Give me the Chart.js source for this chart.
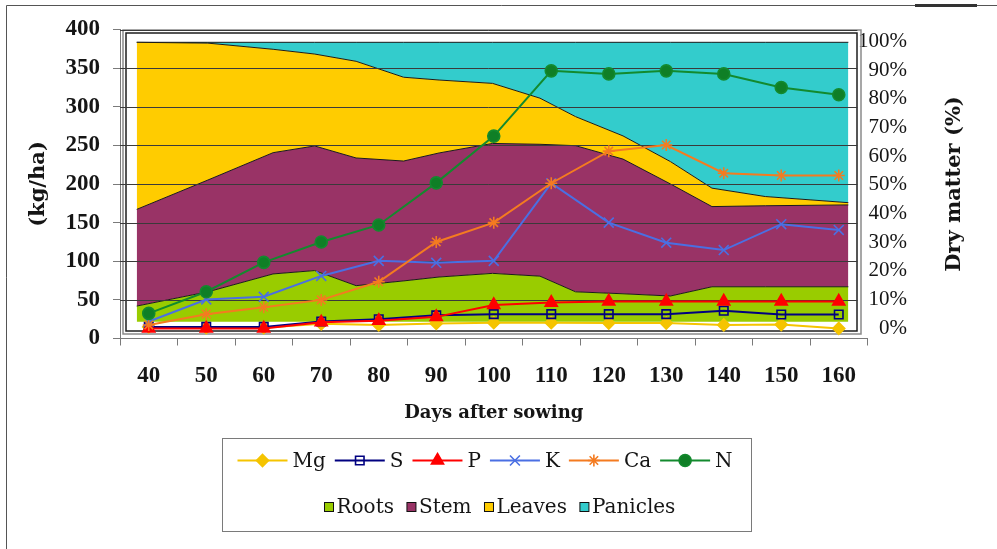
<!DOCTYPE html>
<html>
<head>
<meta charset="utf-8">
<title>Nutrient uptake and dry matter partitioning</title>
<script src="https://cdn.jsdelivr.net/npm/chart.js@4.4.1/dist/chart.umd.min.js"></script>
<style>
  html, body { margin: 0; padding: 0; background: #fff; }
  #wrap { width: 997px; height: 549px; }
</style>
</head>
<body>
<div id="wrap"><canvas id="chart" width="997" height="549"></canvas></div>
<script>
// nutrient uptake (kg/ha), one sample every 10 days
const days = [40, 50, 60, 70, 80, 90, 100, 110, 120, 130, 140, 150, 160];
const mg = [15, 14, 14, 19, 17.5, 19.5, 20.5, 20.5, 20, 20, 17.5, 18, 13];
const s = [15, 15, 15, 22, 25, 30, 31.5, 31.5, 31.5, 31.5, 36, 31, 31];
const p = [13, 13, 13, 21, 23, 28, 43.5, 46.5, 48, 48, 48, 48, 48];
const k = [22, 50.5, 54, 81, 100.5, 98, 100.5, 201, 150, 124, 114.5, 148, 140.5];
const ca = [17.5, 31.5, 40.5, 50, 73.5, 125, 150, 201, 242.5, 250.5, 214, 211, 211];
const n = [32.5, 60.5, 98.5, 125, 147, 201.5, 262, 346.5, 342.5, 346.5, 342.5, 325, 315.5];

// dry matter share (%) of each organ, stacked to 100
const dmDays = [40, 52, 63, 70, 77, 85, 91, 100, 108, 114, 122, 130, 137, 146, 160];
const roots = [5.6, 10.7, 17.1, 18.3, 12.9, 14.6, 16.0, 17.3, 16.3, 10.7, 10.0, 9.2, 12.5, 12.5, 12.5];
const stem = [34.6, 40.0, 43.4, 44.6, 45.7, 42.9, 44.4, 46.5, 47.2, 52.3, 48.2, 40.1, 28.7, 29.0, 29.3];
const leaves = [59.8, 49.0, 37.0, 32.9, 34.6, 30.0, 26.1, 21.5, 16.5, 10.4, 8.3, 8.0, 6.6, 3.3, 0.8];
const panicles = [0, 0.3, 2.5, 4.2, 6.8, 12.5, 13.5, 14.7, 20.0, 26.6, 33.5, 42.7, 52.2, 55.2, 57.4];

// tick labels
const kgTicks = [0, 50, 100, 150, 200, 250, 300, 350, 400];
const pctTicks = [0, 10, 20, 30, 40, 50, 60, 70, 80, 90, 100];

const numFont = "'Liberation Serif', 'Times New Roman', serif";
const textFont = "'DejaVu Serif', serif";
Chart.defaults.color = "#151515";

function lineSet(label, data, color, style, radius, fill, order) {
  return {
    label: label,
    data: data,
    xAxisID: "x",
    yAxisID: "y",
    borderColor: color,
    borderWidth: 2,
    pointStyle: style,
    pointRadius: radius,
    pointBackgroundColor: fill,
    pointBorderColor: color,
    pointBorderWidth: 1.6,
    tension: 0,
    fill: false,
    order: order,
  };
}

function areaSet(label, values, color, fill) {
  return {
    label: label,
    data: dmDays.map((d, i) => ({ x: d, y: values[i] })),
    xAxisID: "xArea",
    yAxisID: "yArea",
    backgroundColor: color,
    borderColor: "#1a1a1a",
    borderWidth: 1,
    pointRadius: 0,
    tension: 0,
    fill: fill,
    order: 10,
  };
}

const drawPoint = (Chart.helpers && Chart.helpers.drawPoint) || function (ctx, o, x, y) {
  ctx.beginPath();
  ctx.arc(x, y, o.radius, 0, Math.PI * 2);
  ctx.fill();
  ctx.stroke();
};

function drawLegend(chart) {
  const ctx = chart.ctx;
  ctx.save();
  ctx.strokeStyle = "#7a7a7a";
  ctx.lineWidth = 1;
  ctx.strokeRect(222.5, 438.5, 529, 93);

  ctx.font = "20px " + textFont;
  ctx.textBaseline = "middle";
  let x = 237.5;
  const y1 = 460.5;
  chart.data.datasets.forEach((ds) => {
    if (ds.yAxisID !== "y") return;
    ctx.strokeStyle = ds.borderColor;
    ctx.lineWidth = 2;
    ctx.beginPath();
    ctx.moveTo(x, y1);
    ctx.lineTo(x + 50, y1);
    ctx.stroke();
    ctx.fillStyle = ds.pointBackgroundColor;
    ctx.strokeStyle = ds.pointBorderColor;
    ctx.lineWidth = ds.pointBorderWidth;
    drawPoint(ctx, { pointStyle: ds.pointStyle, radius: ds.pointRadius, rotation: 0, borderWidth: ds.pointBorderWidth }, x + 25, y1);
    ctx.fillStyle = "#151515";
    ctx.fillText(ds.label, x + 55, y1 + 1);
    x += 55 + ctx.measureText(ds.label).width + 9;
  });

  x = 324.5;
  const y2 = 507;
  chart.data.datasets.forEach((ds) => {
    if (ds.yAxisID !== "yArea") return;
    ctx.fillStyle = ds.backgroundColor;
    ctx.fillRect(x, y2 - 4.5, 9, 9);
    ctx.strokeStyle = "#111";
    ctx.lineWidth = 1;
    ctx.strokeRect(x, y2 - 4.5, 9, 9);
    ctx.fillStyle = "#151515";
    ctx.fillText(ds.label, x + 12, y2 + 1);
    x += 12 + ctx.measureText(ds.label).width + 13;
  });
  ctx.restore();
}

const excelLook = {
  id: "excelLook",
  beforeDatasetsDraw(chart) {
    // double frame around the dry matter plot
    const { ctx, scales } = chart;
    const a0 = scales.xArea.getPixelForValue(dmDays[0]);
    const a1 = scales.xArea.getPixelForValue(dmDays[dmDays.length - 1]);
    const top = scales.yArea.getPixelForValue(100);
    const bot = scales.yArea.getPixelForValue(0);
    ctx.save();
    ctx.lineWidth = 1.5;
    ctx.strokeStyle = "#8a8a8a";
    ctx.strokeRect(Math.round(a0 - 14), Math.round(top - 12), Math.round(a1 - a0 + 26), Math.round(bot - top + 25));
    ctx.strokeStyle = "#1e1e1e";
    ctx.strokeRect(Math.round(a0 - 10.5), Math.round(top - 9), Math.round(a1 - a0 + 19.5), Math.round(bot - top + 19));
    ctx.restore();
  },
  afterDatasetDraw(chart, args) {
    // horizontal grid drawn over the areas but under the nutrient lines
    if (chart.data.datasets[args.index].label !== "Roots") return;
    const { ctx, chartArea, scales } = chart;
    const right = scales.xArea.getPixelForValue(dmDays[dmDays.length - 1]) + 9;
    ctx.save();
    ctx.strokeStyle = "#3a3a3a";
    ctx.lineWidth = 1;
    scales.y.ticks.forEach((t) => {
      if (t.value === 0) return;
      const py = Math.round(scales.y.getPixelForValue(t.value)) + 0.5;
      ctx.beginPath();
      ctx.moveTo(chartArea.left, py);
      ctx.lineTo(right, py);
      ctx.stroke();
    });
    ctx.restore();
  },
  afterDraw(chart) {
    const { ctx, chartArea } = chart;
    // right title reads bottom to top
    ctx.save();
    ctx.translate(955, (chartArea.top + chartArea.bottom) / 2);
    ctx.rotate(-Math.PI / 2);
    ctx.font = "bold 21px " + textFont;
    ctx.textAlign = "center";
    ctx.textBaseline = "middle";
    ctx.fillStyle = "#151515";
    ctx.fillText("Dry matter (%)", 0, 0);
    ctx.restore();

    drawLegend(chart);

    // edges of the scanned page
    ctx.save();
    ctx.strokeStyle = "#555";
    ctx.lineWidth = 1;
    ctx.beginPath();
    ctx.moveTo(6.5, 549);
    ctx.lineTo(6.5, 5.5);
    ctx.lineTo(997, 5.5);
    ctx.stroke();
    ctx.fillStyle = "#333";
    ctx.fillRect(915, 4, 62, 3);
    ctx.restore();
  },
};

const ctx = document.getElementById("chart").getContext("2d");
const chart = new Chart(ctx, {
  type: "line",
  data: {
    labels: days.map(String),
    datasets: [
      lineSet("Mg", mg, "#F5C400", "rectRot", 6, "#F5C400", 6),
      lineSet("S", s, "#000080", "rect", 6, "rgba(0,0,0,0)", 5),
      lineSet("P", p, "#FF0000", "triangle", 7, "#FF0000", 4),
      lineSet("K", k, "#4A6FE3", "crossRot", 7, "#4A6FE3", 3),
      lineSet("Ca", ca, "#F47B20", "star", 6, "#F47B20", 2),
      lineSet("N", n, "#138A2E", "circle", 6, "#0F7F26", 1),
      areaSet("Roots", roots, "#99CC00", "origin"),
      areaSet("Stem", stem, "#993366", "-1"),
      areaSet("Leaves", leaves, "#FFCC00", "-1"),
      areaSet("Panicles", panicles, "#33CCCC", "-1"),
    ],
  },
  options: {
    responsive: false,
    animation: false,
    layout: { padding: { top: 29.5, left: 0, right: 90, bottom: 120.5 } },
    plugins: {
      legend: { display: false },
      tooltip: { enabled: false },
    },
    scales: {
      x: {
        type: "category",
        offset: true,
        grid: { offset: true, drawOnChartArea: false, tickLength: 7, color: "#7a7a7a" },
        border: { color: "#7a7a7a" },
        ticks: { font: { family: numFont, size: 23, weight: "bold" }, padding: 17, maxRotation: 0 },
        title: {
          display: true,
          text: "Days after sowing",
          font: { family: textFont, size: 18, weight: "bold" },
          padding: { top: 0, bottom: 4.7 },
        },
        afterFit: (sc) => { sc.height = 90; },
      },
      // day axis for the dry matter areas (plot spans day 40..160 inside the frame)
      xArea: { type: "linear", display: false, min: 37.18, max: 163.23 },
      y: {
        position: "left",
        min: 0,
        max: 400,
        afterBuildTicks: (sc) => { sc.ticks = kgTicks.map((v) => ({ value: v })); },
        grid: { drawOnChartArea: false, tickLength: 7, color: "#7a7a7a" },
        border: { color: "#7a7a7a" },
        ticks: { font: { family: numFont, size: 23, weight: "bold" }, padding: 13 },
        title: {
          display: true,
          text: "(kg/ha)",
          font: { family: textFont, size: 21, weight: "bold" },
          padding: { top: 26, bottom: 0 },
        },
        afterFit: (sc) => { sc.width = 120; },
      },
      yPct: {
        position: "right",
        min: -3.67,
        max: 104.26,
        afterBuildTicks: (sc) => { sc.ticks = pctTicks.map((v) => ({ value: v })); },
        grid: { display: false, drawTicks: false },
        border: { display: false },
        ticks: {
          font: { family: numFont, size: 21 },
          mirror: true,
          padding: 39.5,
          callback: (v) => v + "%",
        },
        afterFit: (sc) => {
          sc.width = 39.5;
          sc.paddingTop = 0;
          sc.paddingBottom = 0;
        },
      },
      yArea: { display: false, stacked: true, min: -6.01, max: 104.58 },
    },
  },
  plugins: [excelLook],
});
</script>
</body>
</html>
